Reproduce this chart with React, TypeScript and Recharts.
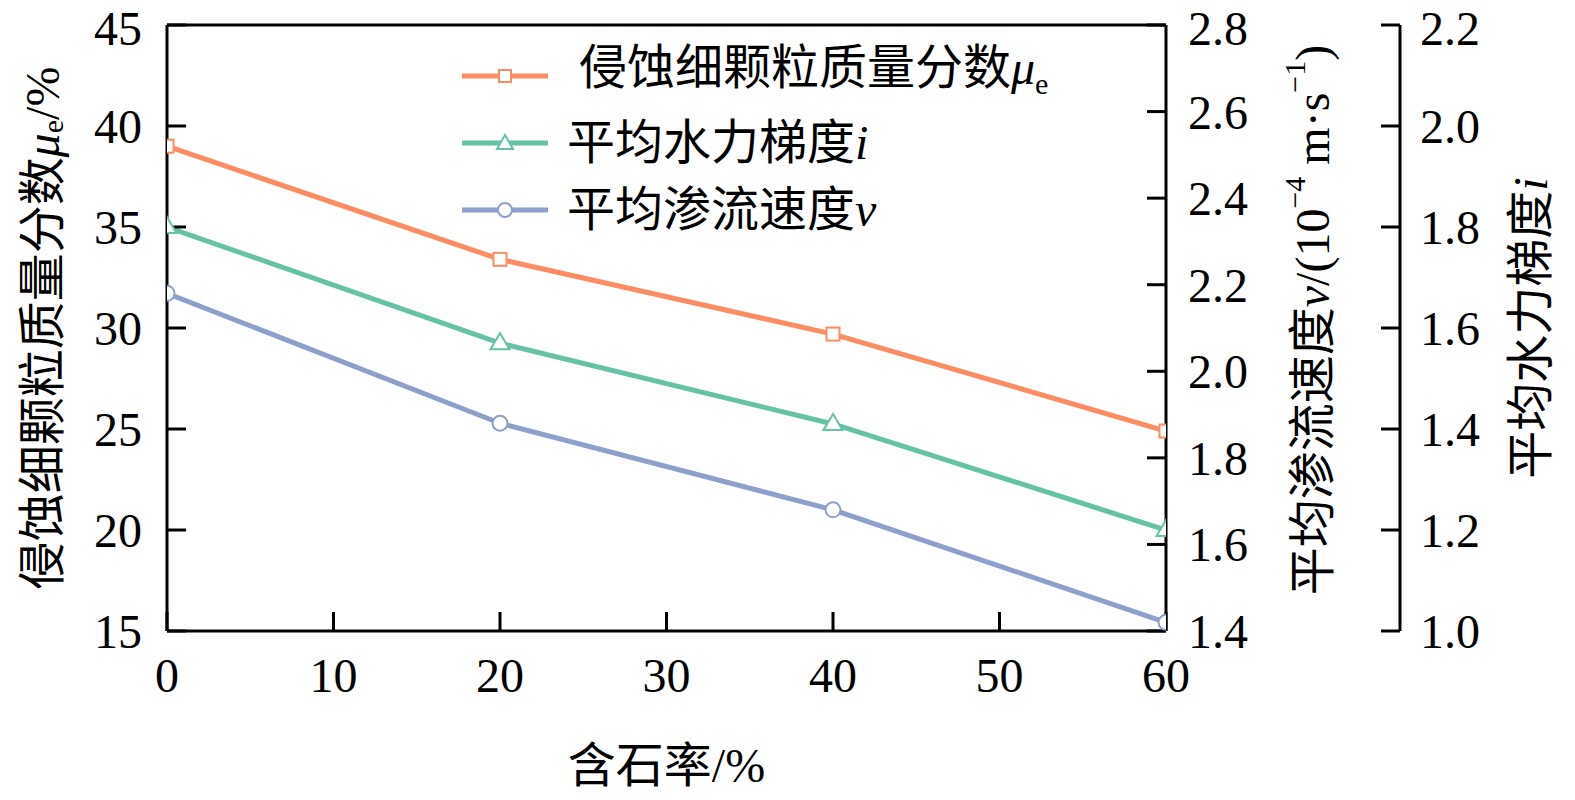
import React from "react";
import { LineChart, Line, XAxis, YAxis, Legend, ReferenceLine, Label } from "recharts";

// 含石率 (%)
const stoneRate = [0, 20, 40, 60];
// 侵蚀细颗粒质量分数 μe (%)
const erodedFines = [39.0, 33.4, 29.7, 24.9];
// 平均水力梯度 i
const hydraulicGradient = [1.8, 1.57, 1.41, 1.2];
// 平均渗流速度 v (1e-4 m/s)
const seepageVelocity = [2.18, 1.88, 1.68, 1.42];

const xTicks = [0, 10, 20, 30, 40, 50, 60];
const muTicks = [15, 20, 25, 30, 35, 40, 45];
const vTicks = [1.4, 1.6, 1.8, 2.0, 2.2, 2.4, 2.6, 2.8];
const iTicks = [1.0, 1.2, 1.4, 1.6, 1.8, 2.0, 2.2];

const data = stoneRate.map((x, k) => ({
  x,
  mu: erodedFines[k],
  i: hydraulicGradient[k],
  v: seepageVelocity[k],
}));

const ORANGE = "#FC8D62";
const GREEN = "#66C2A5";
const BLUE = "#8DA0CB";
const FONT = '"Liberation Serif", "Times New Roman", "Noto Sans CJK SC", serif';
const FS = 48;

const tickStyle = { fontSize: FS, fill: "#000", fontFamily: FONT };
const axisStroke = { stroke: "#000", strokeWidth: 3 };
const fmt1 = (v: number) => v.toFixed(1);

const SquareDot = (p: any) => (
  <rect key={p.index} x={p.cx - 6.5} y={p.cy - 6.5} width={13} height={13} fill="#fff" stroke={ORANGE} strokeWidth={2} />
);
const TriangleDot = (p: any) => (
  <path
    key={p.index}
    d={`M${p.cx},${p.cy - 10} L${p.cx + 9.5},${p.cy + 6} L${p.cx - 9.5},${p.cy + 6} Z`}
    fill="#fff"
    stroke={GREEN}
    strokeWidth={2}
  />
);
const CircleDot = (p: any) => (
  <circle key={p.index} cx={p.cx} cy={p.cy} r={7.5} fill="#fff" stroke={BLUE} strokeWidth={2} />
);

const legendRows = [
  {
    color: ORANGE,
    shape: "square",
    text: (
      <>
        {"\u00a0侵蚀细颗粒质量分数"}
        <i>μ</i>
        <sub style={{ fontSize: 30, verticalAlign: "-10px" }}>e</sub>
      </>
    ),
  },
  { color: GREEN, shape: "triangle", text: <>平均水力梯度<i>i</i></> },
  { color: BLUE, shape: "circle", text: <>平均渗流速度<i>v</i></> },
];

function LegendIcon({ color, shape }: { color: string; shape: string }) {
  return (
    <svg width={86} height={24} style={{ flex: "none" }}>
      <line x1={0} y1={12} x2={86} y2={12} stroke={color} strokeWidth={5} />
      {shape === "square" && <rect x={37} y={6} width={12} height={12} fill="#fff" stroke={color} strokeWidth={2} />}
      {shape === "triangle" && <path d="M43,4 L51,18 L35,18 Z" fill="#fff" stroke={color} strokeWidth={2} />}
      {shape === "circle" && <circle cx={43} cy={12} r={7} fill="#fff" stroke={color} strokeWidth={2} />}
    </svg>
  );
}

function LegendBox() {
  return (
    <div style={{ fontFamily: FONT, fontSize: FS, color: "#000" }}>
      {legendRows.map((r, k) => (
        <div key={k} style={{ display: "flex", alignItems: "center", height: 67, whiteSpace: "pre" }}>
          <LegendIcon color={r.color} shape={r.shape} />
          <span style={{ marginLeft: 19, lineHeight: "48px" }}>{r.text}</span>
        </div>
      ))}
    </div>
  );
}

const LeftTitle = (p: any) => {
  const { x, y, height } = p.viewBox;
  return (
    <text
      transform={`translate(${x + 42},${y + height / 2}) rotate(-90)`}
      textAnchor="middle"
      dominantBaseline="central"
      fontSize={FS}
      fontFamily={FONT}
      fill="#000"
    >
      侵蚀细颗粒质量分数<tspan fontStyle="italic">μ</tspan>
      <tspan fontSize={30} dy={10}>e</tspan>
      <tspan dy={-10}>/%</tspan>
    </text>
  );
};

const VTitle = (p: any) => {
  const { x, y, height } = p.viewBox;
  return (
    <text
      transform={`translate(${x + 146},${y + height / 2 - 8}) rotate(-90)`}
      textAnchor="middle"
      dominantBaseline="central"
      fontSize={FS}
      fontFamily={FONT}
      fill="#000"
    >
      平均渗流速度<tspan fontStyle="italic">v</tspan>/(10
      <tspan fontSize={30} dy={-18}>−4</tspan>
      <tspan dy={18}> m·s</tspan>
      <tspan fontSize={30} dy={-18}>−1</tspan>
      <tspan dy={18}>)</tspan>
    </text>
  );
};

const ITitle = (p: any) => {
  const { x, y, height } = p.viewBox;
  return (
    <text
      transform={`translate(${x + 130},${y + height / 2}) rotate(-90)`}
      textAnchor="middle"
      dominantBaseline="central"
      fontSize={FS}
      fontFamily={FONT}
      fill="#000"
    >
      平均水力梯度<tspan fontStyle="italic">i</tspan>
    </text>
  );
};

const XTitle = (p: any) => {
  const { x, y, width } = p.viewBox;
  return (
    <text
      x={x + width / 2}
      y={y + 134}
      textAnchor="middle"
      dominantBaseline="central"
      fontSize={FS}
      fontFamily={FONT}
      fill="#000"
    >
      含石率/%
    </text>
  );
};

export default function App() {
  return (
    <div style={{ position: "absolute", left: 0, top: 0, background: "#fff" }}>
      <LineChart
        width={1575}
        height={800}
        data={data}
        margin={{ top: 25, right: 0, bottom: 0, left: 0 }}
        style={{ fontFamily: FONT }}
      >
        <XAxis
          dataKey="x"
          type="number"
          domain={[0, 60]}
          ticks={xTicks}
          allowDataOverflow
          height={169}
          tick={tickStyle}
          tickSize={-19}
          tickMargin={46}
          axisLine={axisStroke}
          tickLine={axisStroke}
        >
          <Label content={XTitle} />
        </XAxis>
        <YAxis
          yAxisId="left"
          orientation="left"
          domain={[15, 45]}
          ticks={muTicks}
          width={167}
          tick={tickStyle}
          tickSize={-19}
          tickMargin={44}
          axisLine={axisStroke}
          tickLine={axisStroke}
        >
          <Label content={LeftTitle} />
        </YAxis>
        <YAxis
          yAxisId="right1"
          orientation="right"
          domain={[1.4, 2.8]}
          ticks={vTicks}
          tickFormatter={fmt1}
          width={234}
          tick={tickStyle}
          tickSize={-19}
          tickMargin={41}
          axisLine={axisStroke}
          tickLine={axisStroke}
        >
          <Label content={VTitle} />
        </YAxis>
        <YAxis
          yAxisId="right2"
          orientation="right"
          domain={[1.0, 2.2]}
          ticks={iTicks}
          tickFormatter={fmt1}
          width={175}
          tick={tickStyle}
          tickSize={-19}
          tickMargin={39}
          axisLine={axisStroke}
          tickLine={axisStroke}
        >
          <Label content={ITitle} />
        </YAxis>
        <ReferenceLine yAxisId="left" y={45} stroke="#000" strokeWidth={3} />
        <Legend
          layout="vertical"
          align="center"
          verticalAlign="middle"
          content={() => <LegendBox />}
          wrapperStyle={{ left: 462, top: 42, width: 700 }}
        />
        <Line yAxisId="right1" dataKey="v" stroke={BLUE} strokeWidth={5} dot={CircleDot} activeDot={false} isAnimationActive={false} />
        <Line yAxisId="right2" dataKey="i" stroke={GREEN} strokeWidth={5} dot={TriangleDot} activeDot={false} isAnimationActive={false} />
        <Line yAxisId="left" dataKey="mu" stroke={ORANGE} strokeWidth={5} dot={SquareDot} activeDot={false} isAnimationActive={false} />
      </LineChart>
    </div>
  );
}
